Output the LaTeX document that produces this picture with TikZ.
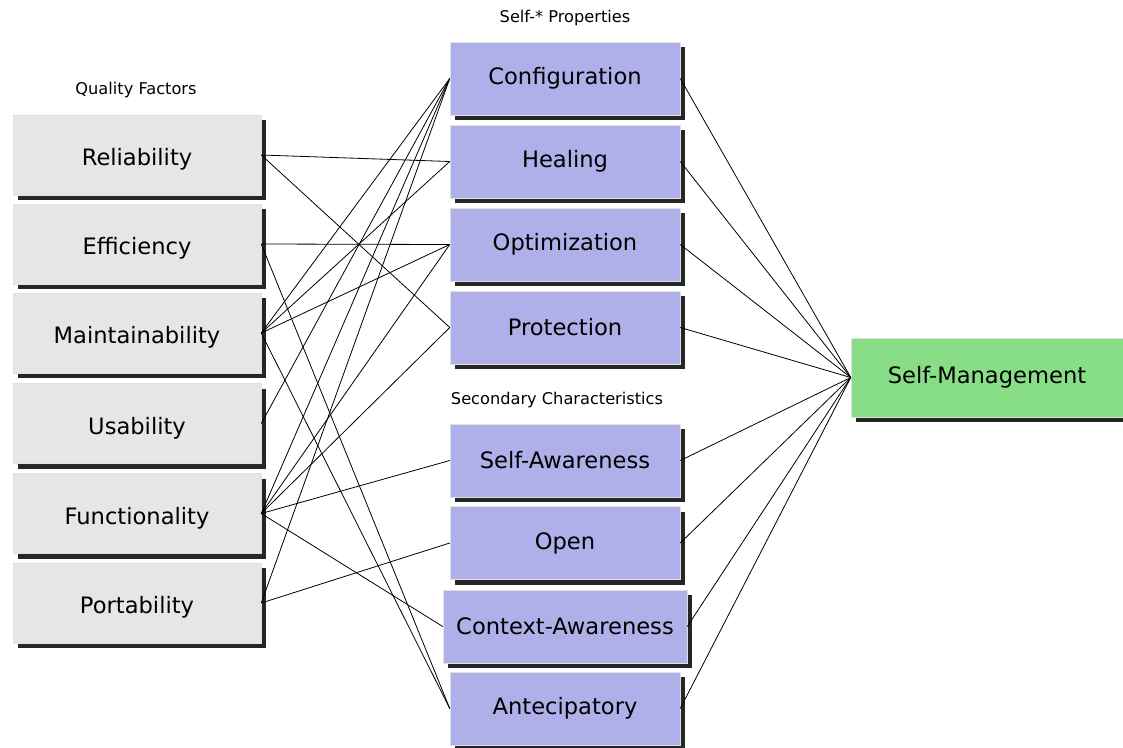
\documentclass[tikz,border=0pt]{standalone}
\usepackage{fontspec}
\setmainfont{DejaVu Sans}
\usetikzlibrary{shadows}
\definecolor{factorgray}{HTML}{E6E6E6}
\definecolor{propblue}{HTML}{AFAFE9}
\definecolor{mgmtgreen}{HTML}{87DE87}
\tikzset{
  boxbase/.style={rectangle, inner sep=0pt, draw=white!88!black, line width=0.5pt,
    drop shadow={shadow xshift=5pt, shadow yshift=-5pt, fill=black, opacity=0.85},
    font=\fontsize{22.6}{26}\selectfont},
  factor/.style={boxbase, fill=factorgray, minimum width=248pt, minimum height=80pt,
    text height=22pt, text depth=1pt},
  prop/.style={boxbase, fill=propblue, minimum width=230pt, minimum height=73pt},
  mgmt/.style={boxbase, fill=mgmtgreen, minimum width=272pt, minimum height=79pt},
  grouplabel/.style={font=\fontsize{16.2}{19}\selectfont, inner sep=0pt},
  link/.style={draw=black, line width=0.8pt}
}
\begin{document}
\begin{tikzpicture}[x=1pt, y=-1pt]
\useasboundingbox (0,0) rectangle (1123,747);

% group headings
\node[grouplabel] (lq) at (136,90) {Quality Factors};
\node[grouplabel] (ls) at (565,18) {Self-* Properties};
\node[grouplabel] (lc) at (557,400) {Secondary Characteristics};

% quality factors
\node[factor] (rel) at (137,155) {Reliability};
\node[factor] (eff) at (137,244) {Efficiency};
\node[factor] (mai) at (137,333) {Maintainability};
\node[factor] (usa) at (137,423.5) {Usability};
\node[factor] (fun) at (137,513.5) {Functionality};
\node[factor] (por) at (137,603) {Portability};

% self-* properties
\node[prop] (con) at (565,78.5) {Configuration};
\node[prop] (hea) at (565,161.5) {Healing};
\node[prop] (opt) at (565,244.5) {Optimization};
\node[prop] (pro) at (565,327.5) {Protection};

% secondary characteristics
\node[prop] (saw) at (565,460.5) {Self-Awareness};
\node[prop] (ope) at (565,543) {Open};
\node[prop, minimum width=244pt] (caw) at (565,626.5) {Context-Awareness};
\node[prop] (ant) at (565,708.5) {Antecipatory};

% goal
\node[mgmt] (sm) at (987,377.5) {Self-Management};

% factors to properties
\draw[link] (rel.east) -- (hea.west);
\draw[link] (rel.east) -- (pro.west);
\draw[link] (eff.east) -- (opt.west);
\draw[link] (eff.east) -- (ant.west);
\draw[link] (mai.east) -- (con.west);
\draw[link] (mai.east) -- (hea.west);
\draw[link] (mai.east) -- (opt.west);
\draw[link] (mai.east) -- (ant.west);
\draw[link] (usa.east) -- (con.west);
\draw[link] (fun.east) -- (con.west);
\draw[link] (fun.east) -- (opt.west);
\draw[link] (fun.east) -- (pro.west);
\draw[link] (fun.east) -- (saw.west);
\draw[link] (fun.east) -- (caw.west);
\draw[link] (por.east) -- (con.west);
\draw[link] (por.east) -- (ope.west);

% properties to self-management
\foreach \p in {con,hea,opt,pro,saw,ope,caw,ant}
  \draw[link] (\p.east) -- (sm.west);
\end{tikzpicture}
\end{document}
